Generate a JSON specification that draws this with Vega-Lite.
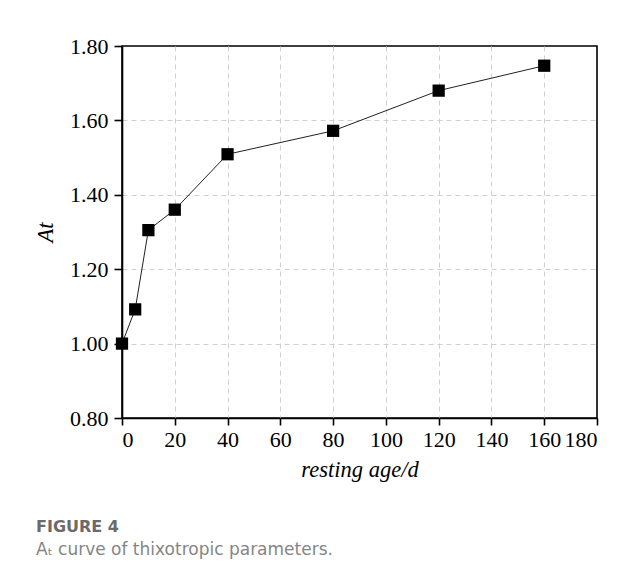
{
  "$schema": "https://vega.github.io/schema/vega-lite/v6.json",
  "width": 475,
  "height": 372,
  "autosize": "none",
  "padding": {"left": 122, "top": 46, "right": 42, "bottom": 165},
  "background": "white",
  "data": {
    "values": [
      {"age": 0, "At": 1.0},
      {"age": 5, "At": 1.092},
      {"age": 10, "At": 1.305},
      {"age": 20, "At": 1.36},
      {"age": 40, "At": 1.509},
      {"age": 80, "At": 1.572},
      {"age": 120, "At": 1.68},
      {"age": 160, "At": 1.747}
    ]
  },
  "title": {
    "text": "FIGURE 4",
    "subtitle": "Aₜ curve of thixotropic parameters.",
    "orient": "bottom",
    "anchor": "start",
    "frame": "group",
    "dx": -86,
    "offset": 38,
    "font": "DejaVu Sans",
    "fontSize": 16,
    "fontWeight": "bold",
    "color": "#6a6a6a",
    "subtitleFont": "DejaVu Sans",
    "subtitleFontSize": 17,
    "subtitleColor": "#858585",
    "subtitlePadding": 7
  },
  "encoding": {
    "x": {
      "field": "age",
      "type": "quantitative",
      "scale": {"domain": [0, 180], "nice": false, "zero": false},
      "axis": {
        "title": "resting age/d",
        "values": [0, 20, 40, 60, 80, 100, 120, 140, 160, 180],
        "titleFontStyle": "italic",
        "titlePadding": 8,
        "gridOpacity": {"condition": {"test": "datum.value == 0 || datum.value == 180", "value": 0}, "value": 1}
      }
    },
    "y": {
      "field": "At",
      "type": "quantitative",
      "scale": {"domain": [0.8, 1.8], "nice": false, "zero": false},
      "axis": {
        "title": "At",
        "values": [0.8, 1.0, 1.2, 1.4, 1.6, 1.8],
        "format": ".2f",
        "titleFontStyle": "italic",
        "titlePadding": 12,
        "titleAngle": -90,
        "tickSize": 8,
        "labelPadding": 6,
        "gridOpacity": {"condition": {"test": "datum.value == 0.8 || datum.value == 1.8", "value": 0}, "value": 1}
      }
    }
  },
  "layer": [
    {"mark": {"type": "line", "color": "#222222", "strokeWidth": 1}},
    {"mark": {"type": "square", "size": 150, "color": "black", "opacity": 1, "filled": true}}
  ],
  "config": {
    "view": {"stroke": "black", "strokeWidth": 1.6},
    "axis": {
      "labelFont": "Liberation Serif",
      "labelFontSize": 22,
      "labelColor": "black",
      "titleFont": "Liberation Serif",
      "titleFontSize": 22.5,
      "titleFontWeight": "normal",
      "titleColor": "black",
      "domainColor": "black",
      "domainWidth": 1.6,
      "tickColor": "black",
      "tickWidth": 1.6,
      "tickSize": 7,
      "labelPadding": 4,
      "grid": true,
      "gridColor": "#cfcfcf",
      "gridDash": [5, 4],
      "gridWidth": 1
    }
  }
}
